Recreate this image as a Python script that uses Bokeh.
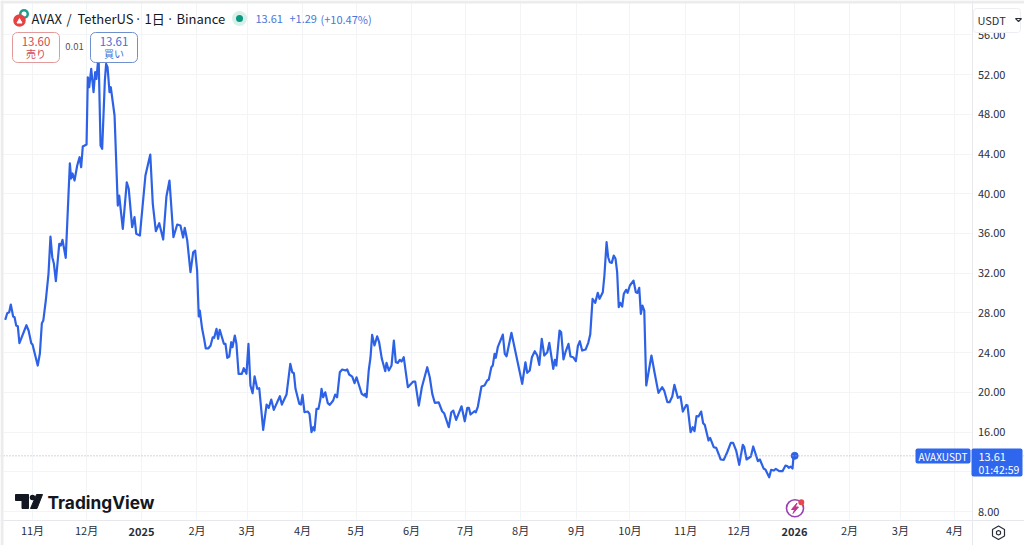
from bokeh.embed import file_html
from bokeh.models import BoxAnnotation, FixedTicker, Label, PolyAnnotation, Range1d, Span
from bokeh.plotting import figure
from bokeh.resources import INLINE

# day number counted from 2025-01-01
day = [-74.8, -73.7, -72.6, -71.7, -70.4, -69.6, -68.7, -67.8, -66.9, -63, -61.8, -60.3, -59.6, -56.7, -55.5, -54.4,
       -53.6, -52.2, -50.7, -49.6, -48.6, -47.7, -46.6, -44.7, -43.8, -42.9, -41.1, -38.8, -38.1, -37.3, -36.2, -34.7,
       -33.4, -32.5, -31.6, -29.5, -28.8, -28, -26.9, -25.6, -24.7, -24, -22.8, -21.7, -20.8, -19.3, -18.6, -17.8,
       -16.7, -16, -13.9, -12.1, -11.3, -9.3, -7.1, -6, -4.1, -2.8, -1.8, 0.2, 3.3, 6, 7.4, 9.1,
       11, 13.2, 15, 16.7, 18.9, 21, 22.8, 24.3, 25.2, 26.6, 28.4, 29.9, 31, 32.1, 33, 33.6,
       34.9, 36, 36.9, 38.4, 39.6, 40.8, 41.6, 42.9, 43.8, 44.7, 47, 47.9, 48.9, 50, 51.1, 51.8,
       53.1, 54, 55.2, 57, 58.1, 59.6, 60.7, 61.8, 63, 64.1, 65.6, 66.7, 68.9, 70.8, 72, 73.4,
       74.8, 78.2, 79.3, 81.9, 84, 85.1, 86, 86.9, 89, 89.9, 90.8, 91.9, 93.8, 94.7, 95.8, 96.8,
       97.5, 98.6, 99.7, 100.8, 101.4, 102.3, 103.5, 104.9, 106, 107.9, 109, 110.1, 111.6, 112.9, 114.8, 115.7,
       116.8, 118.5, 119.8, 120.9, 123.8, 125.2, 125.7, 126.5, 127.7, 128.7, 129.6, 130.9, 132.4, 133.5, 135, 136.9,
       137.6, 138.9, 140.4, 141.7, 142.8, 143.9, 145, 146, 147.2, 149.5, 152.5, 153.6, 155.6, 157.3, 160.3, 161.7,
       163.1, 164.5, 166.7, 168.6, 169.7, 172.3, 173.7, 174.8, 176.4, 179.4, 181.2, 182.6, 183.5, 184.4, 186.6, 187.4,
       188.5, 190.5, 192.2, 193.7, 194.6, 196, 196.8, 197.8, 198.5, 199.6, 202.4, 203.5, 204.5, 207.2, 213.2, 215,
       216, 217.4, 218.6, 220.2, 221.6, 222.7, 224.1, 225.5, 227.2, 228.3, 230.5, 231.4, 232.2, 234, 234.9, 236.2,
       237.3, 239, 240.1, 241.6, 243.1, 244.2, 245.3, 246.6, 248.5, 250, 251.1, 252.4, 253.9, 255.3, 256.3, 258.1,
       259, 260.2, 261.1, 262, 263.1, 264.2, 265.2, 266.1, 267, 267.8, 268.9, 269.8, 271.1, 271.9, 273.2, 275.2,
       276.5, 277.4, 278.4, 279.3, 280.2, 281.2, 282.3, 285.2, 286.9, 289.1, 291.2, 292.3, 294.1, 295.3, 296.8, 298,
       299.9, 301.4, 302.7, 304.6, 305.3, 307, 308.2, 309.2, 310.3, 311.4, 312.9, 314, 314.9, 317, 317.9, 319.9,
       321.3, 323.8, 325.5, 327.4, 329.4, 330.7, 332.4, 334.1, 336.1, 336.9, 338.2, 340.6, 341.9, 344.5, 345.6, 347.8,
       348.7, 350.8, 351.9, 353.4, 354.5, 356.4, 358.2, 359.9, 361, 361.7, 362.7, 363.8, 364.3, 365]

price = [27.30, 27.97, 28.07, 28.84, 27.64, 27.57, 26.73, 26.66, 24.95, 26.76, 26.23, 24.95, 24.82, 22.70, 23.91, 26.96,
         27.23, 29.25, 31.94, 35.69, 33.61, 32.97, 31.19, 34.96, 34.79, 35.36, 33.55, 43.07, 41.53, 42.04, 41.33, 42.84,
         43.68, 42.67, 44.76, 44.96, 51.73, 50.73, 52.58, 50.22, 52.24, 51.57, 53.92, 44.86, 44.52, 51.40, 53.08, 52.74,
         50.22, 50.73, 47.88, 38.81, 39.82, 36.47, 41.16, 40.50, 36.63, 37.64, 35.96, 35.79, 41.84, 43.95, 38.99, 36.23,
         37.03, 35.39, 39.72, 41.33, 35.62, 36.90, 36.80, 35.59, 36.57, 35.29, 32.10, 34.11, 34.28, 32.27, 27.64, 28.24,
         26.40, 25.39, 24.44, 24.44, 24.72, 25.55, 25.49, 26.40, 25.39, 26.30, 24.89, 24.89, 23.48, 23.61, 25.05, 24.55,
         25.72, 24.89, 21.87, 21.87, 22.43, 21.87, 24.89, 20.69, 19.91, 21.62, 20.36, 20.42, 16.23, 18.77, 18.44, 19.28,
         18.24, 19.61, 18.77, 19.78, 22.87, 22.03, 21.93, 20.36, 18.85, 18.77, 19.75, 18.00, 18.07, 17.84, 15.99, 16.49,
         16.16, 18.34, 18.34, 19.35, 20.36, 19.51, 20.01, 18.91, 18.74, 19.18, 19.78, 19.51, 22.03, 22.30, 22.20, 22.30,
         21.80, 21.59, 20.92, 21.52, 19.85, 19.68, 19.85, 19.51, 22.20, 23.54, 25.79, 24.72, 25.65, 25.05, 23.38, 22.13,
         22.97, 22.20, 22.70, 25.22, 23.03, 22.97, 23.28, 23.10, 23.54, 20.52, 21.09, 21.09, 18.67, 20.52, 22.53, 21.52,
         19.85, 18.95, 19.00, 18.10, 17.90, 16.49, 18.00, 18.17, 17.23, 18.60, 17.09, 18.44, 18.44, 17.77, 18.10, 18.00,
         18.57, 20.59, 20.69, 21.19, 21.29, 22.53, 22.70, 23.88, 23.48, 24.55, 25.82, 23.88, 23.64, 26.00, 20.86, 23.03,
         21.97, 22.20, 23.54, 24.14, 23.71, 22.77, 25.39, 23.71, 24.04, 24.99, 22.37, 23.28, 22.70, 26.23, 26.06, 23.31,
         24.04, 24.89, 23.61, 23.54, 23.14, 24.65, 25.15, 24.21, 24.31, 24.99, 25.82, 29.42, 29.02, 30.02, 29.42, 30.08,
         31.77, 35.12, 33.61, 33.10, 33.04, 33.78, 33.45, 32.10, 28.57, 29.02, 28.64, 29.92, 30.33, 30.02, 30.76, 31.26,
         30.08, 30.02, 30.53, 27.91, 28.74, 28.24, 20.69, 23.71, 22.03, 19.95, 20.52, 20.18, 19.01, 19.01, 19.58, 20.76,
         19.45, 19.58, 18.07, 18.74, 18.67, 15.99, 16.49, 16.09, 17.60, 17.57, 18.07, 16.89, 16.73, 15.15, 15.42, 14.48,
         14.41, 13.24, 13.21, 13.97, 14.92, 14.92, 14.14, 12.70, 14.72, 14.48, 13.24, 13.54, 14.55, 13.07, 13.24, 12.30,
         12.23, 11.45, 12.20, 12.13, 12.30, 12.06, 12.06, 12.63, 12.56, 12.40, 12.53, 12.33, 13.47, 13.61]

price_ticks = [8, 12, 16, 20, 24, 28, 32, 36, 40, 44, 48, 52, 56]
month_ticks = [-59.6, -29.5, 1.1, 32, 59.9, 90.8, 120.7, 151.5, 181.6, 212.3, 243.5, 273.2, 304.2, 334, 364.9, 395.5, 423.9, 454]
# the two year labels are bold, so they are drawn apart further down
month_labels = ["11月", "12月", "", "2月", "3月", "4月", "5月", "6月", "7月", "8月", "9月", "10月", "11月", "12月", "", "2月", "3月", "4月"]

BLUE = "#2e62e6"
TEXT = "#2a2e39"
GRID = "#f3f4f6"
BORDER = "#e6e8ee"
JP = "Noto Sans CJK JP"

# the frame fills the page, annotations outside it would get clipped
x_lo, x_hi = -77.44, 493.03
y_lo, y_hi = 4.58, 59.46


# canvas pixel -> data value
def px(v):
    return x_lo + v * (x_hi - x_lo) / 1024


def py(v):
    return y_hi - v * (y_hi - y_lo) / 545


p = figure(width=1024, height=545, output_backend="svg", toolbar_location=None,
           x_range=Range1d(x_lo, x_hi), y_range=Range1d(y_lo, y_hi),
           y_axis_location="right", min_border=0)
p.outline_line_color = None
p.background_fill_color = "white"

p.xgrid.ticker = FixedTicker(ticks=month_ticks)
p.ygrid.ticker = FixedTicker(ticks=price_ticks)
p.xgrid.grid_line_color = GRID
p.ygrid.grid_line_color = GRID
p.xgrid.cross_bounds = (py(519), y_hi)
p.ygrid.cross_bounds = (x_lo, px(971))

p.xaxis.ticker = FixedTicker(ticks=month_ticks)
p.xaxis.major_label_overrides = dict(zip(month_ticks, month_labels))
p.yaxis.ticker = FixedTicker(ticks=price_ticks)
p.yaxis.major_label_overrides = {t: f"{t:.2f}" for t in price_ticks}
p.xaxis.fixed_location = py(519.5)
p.yaxis.fixed_location = px(971.5)
for ax in (p.xaxis[0], p.yaxis[0]):
    ax.major_tick_line_color = None
    ax.minor_tick_line_color = None
    ax.major_tick_out = 0
    ax.major_tick_in = 0
    ax.minor_tick_out = 0
    ax.axis_line_color = BORDER
    ax.major_label_text_color = TEXT
    ax.major_label_text_font_size = "11px"
    ax.major_label_text_font = JP
p.yaxis.major_label_standoff = 6
p.xaxis.major_label_standoff = 2

p.add_layout(Span(location=price[-1], dimension="width", line_color="#a9adb8", line_width=1, line_dash=[1, 2]))
p.line(day, price, line_color=BLUE, line_width=2.2, line_join="round")
p.scatter(day[-1:], price[-1:], size=7, color=BLUE)


def text(x, y, s, size=11, color=TEXT, align="left", style="normal", font=JP):
    p.add_layout(Label(x=x, y=y, x_units="canvas", y_units="canvas", text=s, text_font=font, text_font_size=f"{size}px",
                       text_color=color, text_align=align, text_baseline="middle", text_font_style=style))


def box(l, r, t, b, fill, line=None, radius=0):
    p.add_layout(BoxAnnotation(left=l, right=r, top=t, bottom=b, left_units="canvas", right_units="canvas",
                               top_units="canvas", bottom_units="canvas", fill_color=fill, fill_alpha=1,
                               line_color=line, line_alpha=1, line_width=1, border_radius=radius))


def poly(xs, ys, line, width=1):
    p.add_layout(PolyAnnotation(xs=xs, ys=ys, xs_units="canvas", ys_units="canvas", fill_alpha=0,
                                line_color=line, line_alpha=1, line_width=width))


def dot(x, y, size, color, line=None, width=1):
    p.scatter([px(x)], [py(y)], size=size, fill_color=color, line_color=line, line_width=width)


# window edge
box(0, 3, 0, 545, "#ececec")
box(0, 1024, 0, 3, "#ececec")

# year labels on the time axis
text(141, 531, "2025", style="bold", align="center")
text(794, 531, "2026", style="bold", align="center")

# header
dot(23.5, 13.5, 10, "#1f9d8f")
dot(23.5, 13.5, 5, "white")
dot(19, 20, 12.5, "#e84142")
p.patch([px(v) for v in (16.5, 19, 21.5)], [py(v) for v in (22.5, 18, 22.5)], color="white")
text(31, 18, "AVAX", size=13, color="#131722")
text(66, 18, "/", size=13, color="#131722")
text(77, 18, "TetherUS", size=13, color="#131722")
text(134, 18, "·", size=13, color="#131722")
text(144, 18, "1日", size=13, color="#131722")
text(166, 18, "·", size=13, color="#131722")
text(176, 18, "Binance", size=13, color="#131722")
dot(239, 18, 15, "#d8f0ea")
dot(239, 18, 7, "#089981")
text(255, 18, "13.61", color="#4a76d8")
text(289, 18, "+1.29", color="#4a76d8")
text(320, 18, "(+10.47%)", color="#4a76d8")

# sell and buy buttons
box(12, 59, 32, 62, "white", "#e39a9a", 5)
text(35.5, 41, "13.60", size=11.5, color="#cf4a52", align="center")
text(35.5, 53, "売り", size=10, color="#cf4a52", align="center")
text(74, 46, "0.01", size=9.5, color="#50535e", align="center")
box(90, 137, 32, 62, "white", "#6f8fcf", 5)
text(113.5, 41, "13.61", size=11.5, color="#3f6fd6", align="center")
text(113.5, 53, "買い", size=10, color="#3f6fd6", align="center")

# TradingView mark
p.patch([px(v) for v in (15, 28, 28, 21.5, 21.5, 15)], [py(v) for v in (494, 494, 508, 508, 500, 500)], color="#131722")
p.patch([px(v) for v in (36, 42, 36.5, 30)], [py(v) for v in (494, 494, 508, 508)], color="#131722")
dot(32, 497, 5.5, "#131722")
text(47, 502, "TradingView", size=17.3, color="#131722", style="bold", font="Inter")

# lightning badge
dot(794.5, 507.7, 17, "white", "#9c3fb5", width=1.6)
p.patch([px(v) for v in (796.5, 791, 794.2, 792.5, 798, 794.8)], [py(v) for v in (502.5, 509, 509, 513, 506.5, 506.5)], color="#c2348f")
dot(800.8, 501.8, 6, "#e5484d")

# tags on the price axis
box(915, 970, 448, 463, "#2f66ee", radius=2)
text(942.5, 456, "AVAXUSDT", size=10, color="white", align="center")
box(971, 1022, 448, 476, "#2f66ee", radius=2)
text(978, 456, "13.61", color="white")
text(978, 468.5, "01:42:59", size=10.5, color="white")

# currency button and settings icon
box(973, 1020, 8, 32, "white", "#eceef2", 3)
text(977, 19, "USDT", size=11)
poly([1015, 1018, 1021], [18, 21, 18], TEXT, 1.2)
poly([992, 998, 1004, 1004, 998, 992], [529, 525.5, 529, 535.5, 539, 535.5], TEXT, 1.2)
poly([996, 998, 1000, 1000, 998, 996], [531, 530, 531, 533.5, 534.5, 533.5], TEXT, 1.2)

open("out.html", "w").write(file_html(p, INLINE))
